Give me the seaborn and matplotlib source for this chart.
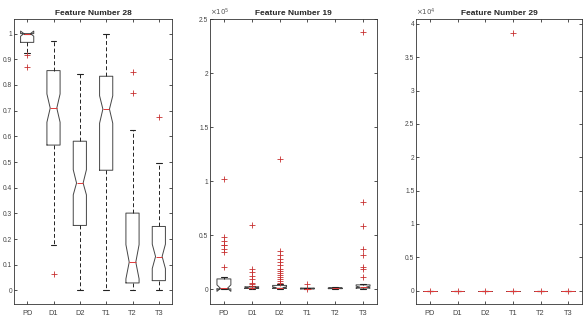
import numpy as np
import seaborn as sns
import matplotlib
matplotlib.use("Agg")
import matplotlib.pyplot as plt
from matplotlib.ticker import FuncFormatter

# groups on the x axis
groups = ["PD", "D1", "D2", "T1", "T2", "T3"]

# Feature 28 box statistics
f28_lo = [0.925, 0.175, 0.0, 0.0, 0.0, 0.0]
f28_q1 = [0.966, 0.566, 0.253, 0.468, 0.029, 0.038]
f28_med = [1.0, 0.710, 0.418, 0.706, 0.110, 0.132]
f28_q3 = [1.0, 0.856, 0.581, 0.834, 0.301, 0.249]
f28_hi = [1.0, 0.972, 0.841, 1.0, 0.625, 0.496]
f28_cilo = [0.99, 0.655, 0.372, 0.651, 0.045, 0.085]
f28_cihi = [1.01, 0.765, 0.470, 0.758, 0.178, 0.180]
f28_out = [[0.915, 0.869], [0.064], [], [], [0.850, 0.769], [0.675]]

# Feature 19 box statistics (x 1e5)
f19_lo = [0.0, 0.0, 0.0, 0.0, 0.002, 0.0]
f19_q1 = [0.003, 0.008, 0.008, 0.003, 0.005, 0.010]
f19_med = [0.008, 0.012, 0.015, 0.006, 0.008, 0.020]
f19_q3 = [0.095, 0.022, 0.035, 0.010, 0.012, 0.040]
f19_hi = [0.110, 0.030, 0.050, 0.015, 0.020, 0.045]
f19_cilo = [-0.020, 0.006, 0.010, 0.004, 0.006, 0.012]
f19_cihi = [0.040, 0.018, 0.022, 0.008, 0.010, 0.028]
f19_out = [
    [1.024, 0.479, 0.442, 0.411, 0.405, 0.371, 0.340, 0.204],
    [0.597, 0.186, 0.158, 0.124, 0.093, 0.061, 0.049, 0.031],
    [1.205, 0.349, 0.320, 0.281, 0.250, 0.220, 0.190, 0.170, 0.150,
     0.130, 0.110, 0.090, 0.075, 0.060],
    [0.050, 0.0],
    [],
    [2.383, 0.808, 0.588, 0.371, 0.312, 0.201, 0.190, 0.111],
]

# Feature 29 box statistics (x 1e4)
f29_lo = [0.0, 0.0, 0.0, 0.0, 0.0, 0.0]
f29_q1 = [0.0, 0.0, 0.0, 0.0, 0.0, 0.0]
f29_med = [0.0, 0.0, 0.0, 0.0, 0.0, 0.0]
f29_q3 = [0.0, 0.0, 0.0, 0.0, 0.0, 0.0]
f29_hi = [0.0, 0.0, 0.0, 0.0, 0.0, 0.0]
f29_out = [[0.0], [0.0], [0.0], [3.87, 0.0], [0.0], [0.0]]

sns.set_style("ticks")
plt.rcParams["font.family"] = ["Liberation Sans", "DejaVu Sans"]


def make_stats(lo, q1, med, q3, hi, out, scale, cilo=None, cihi=None):
    stats = []
    for i, g in enumerate(groups):
        s = dict(label=g, whislo=lo[i] * scale, q1=q1[i] * scale, med=med[i] * scale,
                 q3=q3[i] * scale, whishi=hi[i] * scale,
                 fliers=np.array(out[i]) * scale)
        if cilo is not None:
            s["cilo"] = cilo[i] * scale
            s["cihi"] = cihi[i] * scale
        stats.append(s)
    return stats


def draw(ax, stats, notch):
    ax.bxp(stats, positions=range(1, 7), widths=0.5, capwidths=0.22,
           shownotches=notch, showfliers=True,
           boxprops=dict(color="#454545", lw=0.7),
           whiskerprops=dict(color="#222222", lw=0.7, linestyle=(0, (4, 2.5))),
           capprops=dict(color="#222222", lw=0.8),
           medianprops=dict(color="#e03a3a", lw=0.7),
           flierprops=dict(marker="+", markeredgecolor="#c83030",
                           markersize=4, markeredgewidth=0.6, linestyle="none"))
    ax.set_xlim(0.5, 6.5)
    ax.set_xticks(range(1, 7))
    ax.set_xticklabels(groups)
    ax.tick_params(direction="in", top=True, right=True, length=2.5, width=0.6,
                   labelsize=5.3, labelcolor="#444444", color="#333333")
    ax.tick_params(axis="x", pad=4)
    ax.tick_params(axis="y", pad=1.2, labelsize=4.8)
    for sp in ax.spines.values():
        sp.set_visible(True)
        sp.set_linewidth(0.6)
        sp.set_color("#333333")


fig = plt.figure(figsize=(5.88, 3.18), dpi=100)
bot, h = 14 / 318, 285 / 318
ax1 = fig.add_axes([14 / 588, bot, 158 / 588, h])
ax2 = fig.add_axes([210 / 588, bot, 167 / 588, h])
ax3 = fig.add_axes([416 / 588, bot, 166 / 588, h])

draw(ax1, make_stats(f28_lo, f28_q1, f28_med, f28_q3, f28_hi, f28_out, 1.0,
                     f28_cilo, f28_cihi), True)
ax1.set_ylim(-0.053, 1.057)
ax1.set_yticks(np.arange(0, 1.01, 0.1))
ax1.yaxis.set_major_formatter(FuncFormatter(lambda v, p: "%g" % round(v, 2)))
ax1.set_title("Feature Number 28", fontsize=6, fontweight="bold", pad=3)

draw(ax2, make_stats(f19_lo, f19_q1, f19_med, f19_q3, f19_hi, f19_out, 1e5,
                     f19_cilo, f19_cihi), True)
ax2.set_ylim(-0.137e5, 2.5e5)
ax2.set_yticks(np.arange(0, 2.51e5, 0.5e5))
ax2.yaxis.set_major_formatter(FuncFormatter(lambda v, p: "%g" % (v / 1e5)))
ax2.set_title("Feature Number 19", fontsize=6, fontweight="bold", pad=3)
ax2.text(0.0, 1.004, r"$\times10^{5}$", transform=ax2.transAxes, fontsize=5,
         color="#555555", ha="left", va="bottom")

draw(ax3, make_stats(f29_lo, f29_q1, f29_med, f29_q3, f29_hi, f29_out, 1e4), False)
ax3.set_ylim(-0.2e4, 4.075e4)
ax3.set_yticks(np.arange(0, 4.01e4, 0.5e4))
ax3.yaxis.set_major_formatter(FuncFormatter(lambda v, p: "%g" % (v / 1e4)))
ax3.set_title("Feature Number 29", fontsize=6, fontweight="bold", pad=3)
ax3.text(0.0, 1.004, r"$\times10^{4}$", transform=ax3.transAxes, fontsize=5,
         color="#555555", ha="left", va="bottom")

fig.savefig("out.png", dpi=100)
